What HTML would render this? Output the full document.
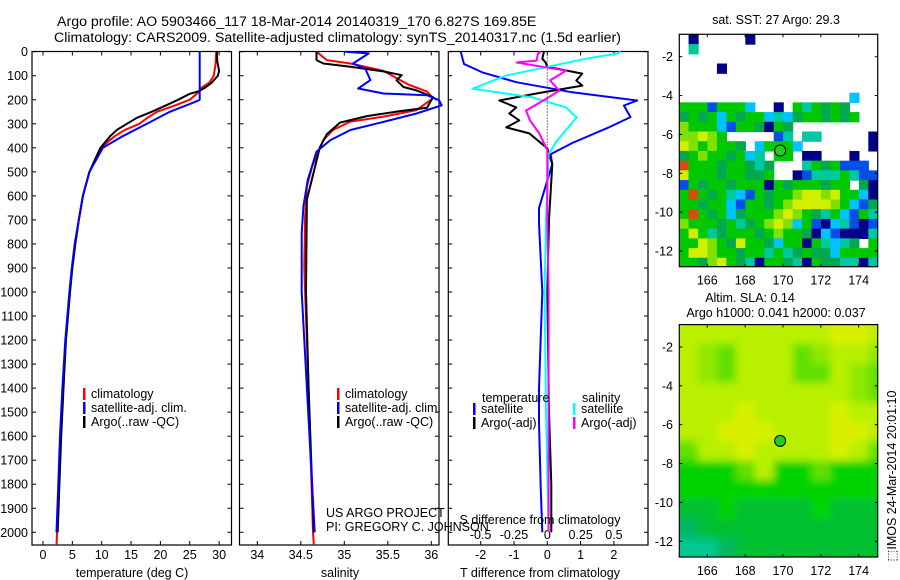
<!DOCTYPE html>
<html><head><meta charset="utf-8">
<style>
html,body{margin:0;padding:0;background:#fff;}
svg{display:block;font-family:"Liberation Sans",sans-serif;}
text{font-size:12.5px;fill:#000;}
</style></head>
<body>
<svg id="fig" width="900" height="580" viewBox="0 0 900 580" xmlns="http://www.w3.org/2000/svg">
<rect width="900" height="580" fill="#fff"/>
<text x="57" y="26" style="font-size:14.2px">Argo profile: AO 5903466_117 18-Mar-2014 20140319_170 6.827S 169.85E</text>
<text x="54" y="42" style="font-size:14.2px">Climatology: CARS2009. Satellite-adjusted climatology: synTS_20140317.nc (1.5d earlier)</text>
<g id="g1"></g>
<g id="g2"></g>
<g id="g3"></g>
<g id="m1"></g>
<g id="m2"></g>
<text x="326" y="517">US ARGO PROJECT</text>
<text x="326" y="531">PI: GREGORY C. JOHNSON</text>
<text transform="translate(896,476) rotate(-90)" text-anchor="middle">⬚IMOS 24-Mar-2014 20:01:10</text>
</svg>
<script>
// ---- depth axis ----
const depthTicks = [0,100,200,300,400,500,600,700,800,900,1000,1100,1200,1300,1400,1500,1600,1700,1800,1900,2000];
// ---- temperature panel ----
const tempTicks = [0,5,10,15,20,25,30];
const climDepth = [0,50,100,130,150,175,200,225,250,275,300,325,350,400,500,600,700,800,900,1000,1200,1400,1600,1800,2000,2050];
const climTemp  = [29.5,29.4,29.1,28.3,27.0,26.2,25.0,22.3,19.4,17.8,16.4,14.0,12.3,9.8,7.9,6.8,6.1,5.5,5.0,4.6,3.9,3.4,3.0,2.7,2.4,2.3];
const argoDepth = [0,40,80,100,130,150,165,175,200,225,250,275,300,325,350,400,500,600,700,800,900,1000,1200,1400,1600,1800,2000];
const argoTemp  = [29.6,29.7,30.0,29.8,28.7,27.6,26.5,25.0,23.0,20.8,18.5,16.0,14.3,12.6,11.5,9.8,7.9,6.8,6.1,5.5,5.0,4.6,3.9,3.5,3.1,2.8,2.5];
const satDepth  = [0,200,210,250,300,350,400,500,600,700,800,900,1000,1200,1400,1600,1800,2000];
const satTemp   = [26.7,26.7,25.8,21.6,17.7,13.7,10.2,7.9,6.8,6.1,5.4,4.9,4.5,3.8,3.3,2.9,2.6,2.3];
// ---- salinity panel ----
const salTicks = [34,34.5,35,35.5,36];
const climSDepth = [0,35,49,80,110,139,166,194,243,270,291,326,367,416,478,561,686,895,1000,1400,2000,2050];
const climSal    = [34.68,34.80,35.07,35.45,35.60,35.75,35.95,36.02,35.83,35.45,35.07,34.87,34.76,34.70,34.63,34.57,34.55,34.54,34.55,34.59,34.64,34.65];
const argoSDepth = [0,35,49,63,82,98,119,147,161,189,233,247,268,295,343,398,615,1000,1400,2000];
const argoSal    = [34.68,34.68,34.76,35.07,35.45,35.66,35.60,35.68,35.83,36.02,35.95,35.64,35.26,34.95,34.80,34.72,34.57,34.56,34.59,34.65];
const satSDepth  = [0,7,49,70,118,153,174,181,202,223,257,292,326,368,416,533,644,756,1000,1400,2000];
const satSal     = [35.01,35.28,35.10,35.24,35.30,35.16,35.45,35.95,36.09,36.12,35.83,35.45,35.07,34.84,34.68,34.58,34.53,34.51,34.51,34.57,34.66];
// ---- difference panel ----
const tdTicks = [-2,-1,0,1,2];
const sdTicks = [-0.5,-0.25,0,0.25,0.5];
const tSatDDepth = [0,51,86,127,169,203,224,272,318,380,427,468,650,714,1000,1400,1540,1800,2000];
const tSatDiff   = [-2.6,-2.5,-1.95,-0.93,0.75,2.7,2.3,2.5,1.8,0.75,0.1,0.15,-0.25,-0.25,-0.15,-0.25,-0.25,-0.2,-0.15];
const tArgoDDepth = [0,29,45,63,91,120,141,174,203,232,257,286,315,340,402,468,700,1000,1500,1800,2000];
const tArgoDiff   = [-0.1,-0.15,-0.05,0,1.05,0.87,1.05,-0.33,-1.44,-0.93,-1.14,-0.84,-1.23,-0.54,0,0.15,0.05,0.0,0.05,0.12,0.12];
const sSatDDepth = [0,8,29,100,154,190,232,274,373,427,700,1000,1500,2000];
const sSatDiff   = [0.55,0.52,0.29,-0.31,-0.56,-0.11,0.14,0.22,0.07,0.01,-0.01,-0.02,-0.01,0.01];
const sArgoDDepth = [0,8,37,45,79,120,162,190,245,286,340,410,700,1000,1500,2000];
const sArgoDiff   = [-0.05,-0.07,-0.08,-0.23,0.14,0.02,0.09,0.01,-0.16,-0.13,-0.06,0,0.0,0.01,0.01,0.01];
// ---- maps ----
const lonTicks = [166,168,170,172,174];
const latTicks = [-2,-4,-6,-8,-10,-12];
const argoLon = 169.85, argoLat = -6.83;
const sstRows = [
".N.....N.............",
".T...................",
".....................",
"....N................",
".....................",
".....................",
"..................C..",
"GGGBGGGC..N.GTGDGD...",
"DGDGCGDGGCTCDGGDGDG..",
"LGGGCBGGDNGD.........",
"LLYLG.....BT.TT.....N",
"YLGLGGD.CGGGC.......N",
"DGLGGDGCT.GG.NN...N..",
"OGGGDGGDTD...TGDGBBB.",
"YGGGDGGDDG..NBTTTGTBB",
"BGDGGDGGGNGDGGGDGG.DN",
"GOGDGTCBGDGGLYYLYGGCN",
"GGDGGCBGGDGLYYYYLGCBD",
"GOGDGCDGGGLYLGDTGCBGT",
"LGGGDGTDGLYLCGBNCTBNB",
"GYGTDGGGDGLGGDNCBNNNT",
"GGYLGDYGGDCGGNGTCTD.G",
"GYYLGGDGGTGTDGDDCGGGG",
"GGDLYGDTNGGDTNGDDTTNT"];
const sstColors = {N:"#000088",B:"#0050e8",C:"#00c4ff",T:"#00c8a0",G:"#00c800",D:"#00a850",L:"#80e000",Y:"#d0f000",O:"#d05010"};
const slaRows = [
"yyyyyyyyYYy",
"ylkyyyklyyl",
"ylkyyykkylk",
"yyyyyyyyylk",
"yyyYyyyyYyy",
"yyYYYyyyYYy",
"kyyYyyyyYyk",
"gggkyggkggg",
"ggggggggggg",
"GGgGGGGgGGG",
"TGGGGGGGGGG",
"ttTGGGGGGGG"];
const slaColors = {Y:"#d8f000",y:"#b8f000",l:"#90e800",k:"#60e000",g:"#00d400",G:"#00c030",T:"#00b860",t:"#00c890"};

const NS="http://www.w3.org/2000/svg";
function mk(parent,tag,attrs){const e=document.createElementNS(NS,tag);for(const k in attrs)e.setAttribute(k,attrs[k]);parent.appendChild(e);return e;}
const yTop=51.7, pxPerM=0.2403, boxTop=51.5, boxBot=545;
function yD(d){return yTop+d*pxPerM;}

function panel(g,x0,x1,xmin,xmax,ticks,labels){
  const sx=v=>x0+(v-xmin)/(xmax-xmin)*(x1-x0);
  const r=mk(g,'rect',{x:x0,y:boxTop,width:x1-x0,height:boxBot-boxTop,fill:'none',stroke:'#000','stroke-width':1.2});
  
  
  depthTicks.forEach(d=>{
    mk(g,'line',{x1:x0,x2:x0+4,y1:yD(d),y2:yD(d),stroke:'#000'});
    mk(g,'line',{x1:x1-4,x2:x1,y1:yD(d),y2:yD(d),stroke:'#000'});
  });
  if(ticks){ticks.forEach(v=>{
    mk(g,'line',{x1:sx(v),x2:sx(v),y1:boxBot,y2:boxBot-4,stroke:'#000'});
    mk(g,'line',{x1:sx(v),x2:sx(v),y1:boxTop,y2:boxTop+4,stroke:'#000'});
    if(labels){const t=mk(g,'text',{x:sx(v),y:559,'text-anchor':'middle'});t.textContent=String(v);
      
      }
  });}
  return sx;
}
function line(g,sx,ds,vs,col,name,w){
  const pts=ds.map((d,i)=>sx(vs[i]).toFixed(1)+','+yD(d).toFixed(1)).join(' ');
  const p=mk(g,'polyline',{points:pts,fill:'none',stroke:col,'stroke-width':w||2,'stroke-linejoin':'round'});
  
  
}
function legend(g,x,y,col,label){
  mk(g,'rect',{x:x,y:y-9,width:2.5,height:12,fill:col});
  const t=mk(g,'text',{x:x+8,y:y+1});t.textContent=label;
  
  
}

// Panel 1
const g1=document.getElementById('g1');
const sxT=panel(g1,32,231.5,(32-43)/5.87,(231.5-43)/5.87,tempTicks,true);
depthTicks.forEach(d=>{const t=mk(g1,'text',{x:28,y:yD(d)+4.5,'text-anchor':'end'});t.textContent=d;
  
  });
line(g1,sxT,climDepth,climTemp,'#ff0000','climatology-temp');
line(g1,sxT,argoDepth,argoTemp,'#000000','argo-temp');
line(g1,sxT,satDepth,satTemp,'#0000ff','satellite-temp');
legend(g1,83,397,'#ff0000','climatology');
legend(g1,83,411,'#0000ff','satellite-adj. clim.');
legend(g1,83,425,'#000000','Argo(..raw -QC)');
const xt1=mk(g1,'text',{x:132,y:577,'text-anchor':'middle'});xt1.textContent='temperature (deg C)';



// Panel 2
const g2=document.getElementById('g2');
const sxS=panel(g2,239.5,439,34+(239.5-257.3)/87,34+(439-257.3)/87,salTicks,true);
line(g2,sxS,climSDepth,climSal,'#ff0000','climatology-salinity');
line(g2,sxS,argoSDepth,argoSal,'#000000','argo-salinity');
line(g2,sxS,satSDepth,satSal,'#0000ff','satellite-salinity');
legend(g2,337,397,'#ff0000','climatology');
legend(g2,337,411,'#0000ff','satellite-adj. clim.');
legend(g2,337,425,'#000000','Argo(..raw -QC)');
const xt2=mk(g2,'text',{x:340,y:577,'text-anchor':'middle'});xt2.textContent='salinity';



// Panel 3
const g3=document.getElementById('g3');
const sxTd=panel(g3,448.3,648,(448.3-547.3)/33.3,(648-547.3)/33.3,tdTicks,true);
const sxSd=v=>547.3+v*133.3;
sdTicks.forEach(v=>{const t=mk(g3,'text',{x:sxSd(v),y:539,'text-anchor':'middle'});t.textContent=String(v);
  
  });
mk(g3,'line',{x1:sxTd(0),x2:sxTd(0),y1:boxTop,y2:yD(450),stroke:'#000','stroke-dasharray':'1,2'});
line(g3,sxTd,tSatDDepth,tSatDiff,'#0000ff','satellite-temp-diff');
line(g3,sxTd,tArgoDDepth,tArgoDiff,'#000000','argo-temp-diff');
line(g3,sxSd,sSatDDepth,sSatDiff,'#00ffff','satellite-sal-diff');
line(g3,sxSd,sArgoDDepth,sArgoDiff,'#ff00ff','argo-sal-diff');
const lt=mk(g3,'text',{x:482,y:402});lt.textContent='temperature';


const ls=mk(g3,'text',{x:582,y:402});ls.textContent='salinity';


legend(g3,473,412,'#0000ff','satellite');
legend(g3,473,426,'#000000','Argo(-adj)');
legend(g3,573,412,'#00ffff','satellite');
legend(g3,573,426,'#ff00ff','Argo(-adj)');
const st=mk(g3,'text',{x:540,y:524,'text-anchor':'middle'});st.textContent='S difference from climatology';


const tt=mk(g3,'text',{x:540,y:577,'text-anchor':'middle'});tt.textContent='T difference from climatology';



// Maps
function map(g,top,rows,colors,cellDeg,blur,id){
  const x0=679.3,x1=877.7,bot=top+232.4;
  const sx=lon=>707.3+(lon-166)*18.92;
  const sy=lat=>top+22.4+(-2-lat)*19.43;
  const lonMin=164.51, latMax=-0.85;
  const cp=mk(g,'clipPath',{id:id+'c'});mk(cp,'rect',{x:x0,y:top,width:x1-x0,height:bot-top});
  const cg=mk(g,'g',{'clip-path':'url(#'+id+'c)'});
  let tg=cg;
  if(blur){const f=mk(g,'filter',{id:id+'f',filterUnits:'userSpaceOnUse',x:640,y:top-40,width:280,height:320});mk(f,'feGaussianBlur',{stdDeviation:blur});tg=mk(cg,'g',{filter:'url(#'+id+'f)'});}
  rows.forEach((row,r)=>{[...row].forEach((ch,c)=>{
    if(ch==='.')return;
    const lon=lonMin+c*cellDeg, lat=latMax-r*cellDeg;
    const cell=mk(tg,'rect',{x:sx(lon),y:sy(lat),width:cellDeg*18.92+0.6,height:cellDeg*19.43+0.6,fill:colors[ch]});
    
    
  });});
  if(blur){ // extend edge rows/cols outward so blur doesn't fade at borders
    const lastRow=rows[rows.length-1], firstRow=rows[0];
    [...lastRow].forEach((ch,c)=>{mk(tg,'rect',{x:sx(lonMin+c*cellDeg),y:sy(latMax-rows.length*cellDeg),width:cellDeg*18.92+0.6,height:30,fill:colors[ch]});});
    [...firstRow].forEach((ch,c)=>{mk(tg,'rect',{x:sx(lonMin+c*cellDeg),y:sy(latMax)-30,width:cellDeg*18.92+0.6,height:30.5,fill:colors[ch]});});
    rows.forEach((row,r)=>{
      mk(tg,'rect',{x:sx(lonMin+row.length*cellDeg),y:sy(latMax-r*cellDeg),width:30,height:cellDeg*19.43+0.6,fill:colors[row[row.length-1]]});
      mk(tg,'rect',{x:sx(lonMin)-30,y:sy(latMax-r*cellDeg),width:30.5,height:cellDeg*19.43+0.6,fill:colors[row[0]]});
    });
    mk(tg,'rect',{x:sx(lonMin)-30,y:sy(latMax-rows.length*cellDeg),width:31,height:30,fill:colors[lastRow[0]]});
    mk(tg,'rect',{x:sx(lonMin+lastRow.length*cellDeg)-1,y:sy(latMax-rows.length*cellDeg),width:31,height:30,fill:colors[lastRow[lastRow.length-1]]});
  }
  const c=mk(g,'circle',{cx:sx(argoLon),cy:sy(argoLat),r:5.5,fill:'#22cc22',stroke:'#000','stroke-width':1});
  
  
  const fr=mk(g,'rect',{x:x0,y:top,width:x1-x0,height:bot-top,fill:'none',stroke:'#000','stroke-width':1.2});
  
  
  lonTicks.forEach(v=>{
    mk(g,'line',{x1:sx(v),x2:sx(v),y1:bot,y2:bot-3,stroke:'#000'});
    mk(g,'line',{x1:sx(v),x2:sx(v),y1:top,y2:top+3,stroke:'#000'});
    const t=mk(g,'text',{x:sx(v),y:bot+18,'text-anchor':'middle'});t.textContent=v;
    
    
  });
  latTicks.forEach(v=>{
    mk(g,'line',{x1:x0,x2:x0+3,y1:sy(v),y2:sy(v),stroke:'#000'});
    mk(g,'line',{x1:x1-3,x2:x1,y1:sy(v),y2:sy(v),stroke:'#000'});
    const t=mk(g,'text',{x:673,y:sy(v)+4.5,'text-anchor':'end'});t.textContent=v;
    
    
  });
}
const m1=document.getElementById('m1');
map(m1,34.3,sstRows,sstColors,0.5,0,'a');
const mt1=mk(m1,'text',{x:776,y:24,'text-anchor':'middle'});mt1.textContent='sat. SST: 27 Argo: 29.3';


const m2=document.getElementById('m2');
map(m2,324.6,slaRows,slaColors,1,4,'b');
const mt2=mk(m2,'text',{x:750,y:302,'text-anchor':'middle'});mt2.textContent='Altim. SLA: 0.14';


const mt3=mk(m2,'text',{x:776,y:317,'text-anchor':'middle'});mt3.textContent='Argo h1000: 0.041 h2000: 0.037';


</script>
</body></html>
